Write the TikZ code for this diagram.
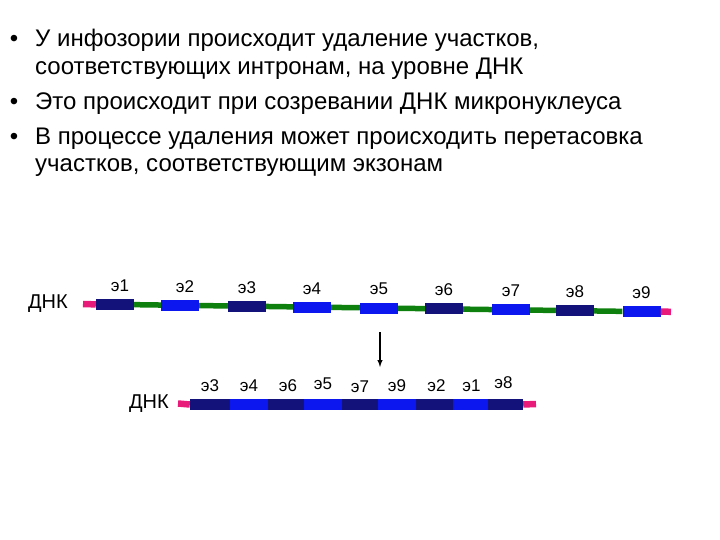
\documentclass[tikz,border=0pt]{standalone}
\usepackage{fontspec}
\setmainfont{Liberation Sans}
\usetikzlibrary{positioning}

\definecolor{exdark}{RGB}{18,18,122}
\definecolor{exblue}{RGB}{12,22,238}
\definecolor{dnagreen}{RGB}{14,128,14}
\definecolor{dnapink}{RGB}{232,26,122}

\tikzset{
  exon/.style={rectangle, inner sep=0pt, minimum width=38pt, minimum height=11pt},
  exlabel/.style={inner sep=0pt, font=\fontsize{17}{17}\selectfont},
  dnalabel/.style={inner sep=0pt, font=\fontsize{20}{20}\selectfont},
  greenline/.style={draw=dnagreen, line width=5.5pt},
  pinkline/.style={draw=dnapink, line width=6.5pt},
  bulletdot/.style={inner sep=0pt, anchor=base, font=\fontsize{24}{24}\selectfont},
  bullettext/.style={inner sep=0pt, anchor=base west, font=\fontsize{24}{24}\selectfont}
}

\begin{document}
\begin{tikzpicture}[x=1pt, y=-1pt]
\useasboundingbox (0,0) rectangle (720,540);

% bullet list
\node[bulletdot] (dot1) at (14, 47) {•};
\node[bullettext] (item1) at (35, 47) {У инфозории происходит удаление участков,};
\node[bullettext] (item1b) at (35, 74.5) {соответствующих интронам, на уровне ДНК};
\node[bulletdot] (dot2) at (14, 110) {•};
\node[bullettext] (item2) at (35, 110) {Это происходит при созревании ДНК микронуклеуса};
\node[bulletdot] (dot3) at (14, 144.5) {•};
\node[bullettext] (item3) at (35, 144.5) {В процессе удаления может происходить перетасовка};
\node[bullettext] (item3b) at (35, 172) {участков, соответствующим экзонам};

% DNA before
\coordinate (topstart) at (83, 304);
\coordinate (topend) at (671, 311.8);
\node[exon, fill=exdark] (e1) at (115, 304.4) {};
\node[exon, fill=exblue] (e2) at (180, 305.3) {};
\node[exon, fill=exdark] (e3) at (247, 306.2) {};
\node[exon, fill=exblue] (e4) at (312, 307.1) {};
\node[exon, fill=exblue] (e5) at (379, 308.0) {};
\node[exon, fill=exdark] (e6) at (444, 308.9) {};
\node[exon, fill=exblue] (e7) at (511, 309.8) {};
\node[exon, fill=exdark] (e8) at (575, 310.7) {};
\node[exon, fill=exblue] (e9) at (641.5, 311.6) {};
    \draw[greenline] (e1) -- (e2) -- (e3) -- (e4) -- (e5) -- (e6) -- (e7) -- (e8) -- (e9);
    \draw[pinkline] (topstart) -- (e1.west);
    \draw[pinkline] (e9.east) -- (topend);
\node[dnalabel, left=15pt of topstart] (dna1) {ДНК};

\node[exlabel, above=7pt of e1, xshift=5pt] (l1) {э1};
\node[exlabel, above=7pt of e2, xshift=5pt] (l2) {э2};
\node[exlabel, above=7pt of e3] (l3) {э3};
\node[exlabel, above=7pt of e4] (l4) {э4};
\node[exlabel, above=7pt of e5] (l5) {э5};
\node[exlabel, above=7pt of e6] (l6) {э6};
\node[exlabel, above=7pt of e7] (l7) {э7};
\node[exlabel, above=7pt of e8] (l8) {э8};
\node[exlabel, above=7pt of e9] (l9) {э9};

% arrow
\coordinate (arrtop) at (380, 332);
\coordinate (arrbot) at (380, 367);
    \draw[-latex, line width=1.4pt] (arrtop) -- (arrbot);

% DNA after
\coordinate (botstart) at (178, 403.5);
\coordinate (botend) at (536, 404);
\node[exon, fill=exdark, minimum width=40pt] (m3) at (210, 404.5) {};
\node[exon, fill=exblue, minimum width=38pt] (m4) at (249, 404.5) {};
\node[exon, fill=exdark, minimum width=36pt] (m6) at (286, 404.5) {};
\node[exon, fill=exblue, minimum width=38pt] (m5) at (323, 404.5) {};
\node[exon, fill=exdark, minimum width=36pt] (m7) at (360, 404.5) {};
\node[exon, fill=exblue, minimum width=38pt] (m9) at (397, 404.5) {};
\node[exon, fill=exdark, minimum width=37pt] (m2) at (434.5, 404.5) {};
\node[exon, fill=exblue, minimum width=35pt] (m1) at (470.5, 404.5) {};
\node[exon, fill=exdark, minimum width=35pt] (m8) at (505.5, 404.5) {};
    \draw[pinkline] (botstart) -- (m3.west);
    \draw[pinkline] (m8.east) -- (botend);
\node[dnalabel, left=9pt of botstart] (dna2) {ДНК};

\node[exlabel, above=7pt of m3] (k3) {э3};
\node[exlabel, above=7pt of m4] (k4) {э4};
\node[exlabel, above=7pt of m6, xshift=2pt] (k6) {э6};
\node[exlabel, above=9pt of m5] (k5) {э5};
\node[exlabel, above=6pt of m7] (k7) {э7};
\node[exlabel, above=7pt of m9] (k9) {э9};
\node[exlabel, above=7pt of m2, xshift=2pt] (k2) {э2};
\node[exlabel, above=7pt of m1, xshift=1pt] (k1) {э1};
\node[exlabel, above=10pt of m8, xshift=-2pt] (k8) {э8};
\end{tikzpicture}
\end{document}
